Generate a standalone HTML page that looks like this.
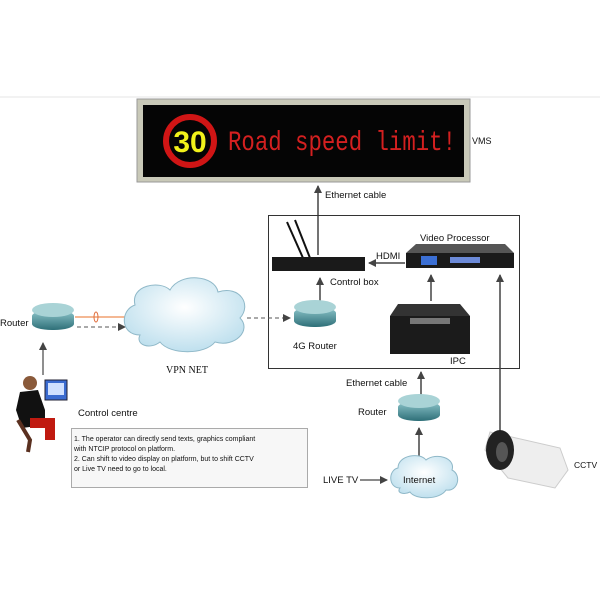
<!DOCTYPE html>
<html><head><meta charset="utf-8"><style>
body{margin:0;background:#fff;width:600px;height:600px;overflow:hidden}
text{font-family:"Liberation Sans",sans-serif;fill:#111}
</style></head><body>
<svg width="600" height="600" viewBox="0 0 600 600">
<defs>
<marker id="a" markerWidth="8" markerHeight="8" refX="7" refY="4" orient="auto" markerUnits="userSpaceOnUse"><path d="M0,0L8,4L0,8z" fill="#444"/></marker>
<radialGradient id="cl" cx="50%" cy="40%" r="60%"><stop offset="0" stop-color="#fff"/><stop offset="1" stop-color="#bfe0ee"/></radialGradient>
<linearGradient id="rt" x1="0" y1="0" x2="0" y2="1"><stop offset="0" stop-color="#8fc7cc"/><stop offset="1" stop-color="#2e6f78"/></linearGradient>
</defs>
<line x1="0" y1="97" x2="600" y2="97" stroke="#e6e6e6"/>
<rect x="137" y="99" width="333" height="83" fill="#c9c9b8" stroke="#999"/>
<rect x="143" y="105" width="321" height="72" fill="#050505"/>
<circle cx="190" cy="141" r="24" fill="none" stroke="#d01515" stroke-width="6"/>
<text x="190" y="152" text-anchor="middle" font-size="30" font-weight="bold" style="fill:#f2f21a">30</text>
<text x="228" y="150" font-size="28" textLength="228" lengthAdjust="spacingAndGlyphs" style="fill:#d42020;font-family:'Liberation Mono',monospace">Road speed limit!</text>
<text x="472" y="144" font-size="9">VMS</text>
<line x1="318" y1="255" x2="318" y2="186" stroke="#444" stroke-width="1.5" marker-end="url(#a)"/>
<text x="325" y="198" font-size="9.5">Ethernet cable</text>
<rect x="268.5" y="215.5" width="251" height="153" fill="none" stroke="#333"/>
<line x1="287" y1="222" x2="303" y2="258" stroke="#111" stroke-width="2"/>
<line x1="295" y1="220" x2="310" y2="258" stroke="#111" stroke-width="2"/>
<rect x="272" y="257" width="93" height="14" fill="#1a1a1a"/>
<text x="330" y="285" font-size="9.5">Control box</text>
<text x="420" y="241" font-size="9.5">Video Processor</text>
<polygon points="416,244 505,244 514,253 406,253" fill="#555"/>
<rect x="406" y="253" width="108" height="15" fill="#1a1a1a"/>
<rect x="421" y="256" width="16" height="9" fill="#3b6fd4"/>
<rect x="450" y="257" width="30" height="6" fill="#6c8ad8"/>
<text x="376" y="259" font-size="9.5">HDMI</text>
<line x1="405" y1="263" x2="369" y2="263" stroke="#444" stroke-width="1.5" marker-end="url(#a)"/>
<line x1="431" y1="301" x2="431" y2="275" stroke="#444" stroke-width="1.5" marker-end="url(#a)"/>
<line x1="500" y1="450" x2="500" y2="275" stroke="#444" stroke-width="1.5" marker-end="url(#a)"/>
<line x1="320" y1="303" x2="320" y2="278" stroke="#444" stroke-width="1.5" marker-end="url(#a)"/>
<rect x="294" y="307" width="42" height="20" rx="20" ry="6" fill="url(#rt)"/>
<ellipse cx="315" cy="307" rx="21" ry="7" fill="#a9d3d6"/>
<text x="293" y="349" font-size="9.5">4G Router</text>
<polygon points="398,304 460,304 470,316 390,316" fill="#333"/>
<rect x="390" y="316" width="80" height="38" fill="#1b1b1b"/>
<rect x="410" y="318" width="40" height="6" fill="#777"/>
<text x="450" y="364" font-size="9.5">IPC</text>
<rect x="32" y="310" width="42" height="20" rx="20" ry="6" fill="url(#rt)"/>
<ellipse cx="53" cy="310" rx="21" ry="7" fill="#a9d3d6"/>
<text x="0" y="326" font-size="9.5">Router</text>
<line x1="43" y1="375" x2="43" y2="343" stroke="#444" stroke-width="1.2" marker-end="url(#a)"/>
<line x1="75" y1="317" x2="125" y2="317" stroke="#f0a070" stroke-width="1.5"/>
<ellipse cx="96" cy="317" rx="2" ry="5" fill="none" stroke="#e07040"/>
<line x1="77" y1="327" x2="125" y2="327" stroke="#555" stroke-dasharray="4,3" marker-end="url(#a)"/>
<path d="M140,335 C120,335 120,310 135,305 C130,285 160,280 170,290 C180,272 215,275 218,292 C240,285 252,305 240,318 C252,330 235,348 215,342 C205,355 170,355 160,342 C150,350 135,345 140,335z" fill="url(#cl)" stroke="#8fb8c8"/>
<text x="166" y="373" font-size="10" style="font-family:'Liberation Serif',serif">VPN NET</text>
<line x1="247" y1="318" x2="290" y2="318" stroke="#555" stroke-dasharray="4,3" marker-end="url(#a)"/>
<text x="346" y="386" font-size="9.5">Ethernet cable</text>
<line x1="421" y1="395" x2="421" y2="372" stroke="#444" stroke-width="1.5" marker-end="url(#a)"/>
<rect x="398" y="401" width="42" height="20" rx="20" ry="6" fill="url(#rt)"/>
<ellipse cx="419" cy="401" rx="21" ry="7" fill="#a9d3d6"/>
<text x="358" y="415" font-size="9.5">Router</text>
<line x1="419" y1="458" x2="419" y2="428" stroke="#444" stroke-width="1.5" marker-end="url(#a)"/>
<path d="M400,488 C388,488 388,470 398,468 C398,455 420,452 426,460 C436,452 456,458 452,470 C462,475 458,492 446,490 C440,500 415,500 410,492 C404,495 396,493 400,488z" fill="url(#cl)" stroke="#8fb8c8"/>
<text x="403" y="483" font-size="9.5">Internet</text>
<text x="323" y="483" font-size="9.5">LIVE TV</text>
<line x1="360" y1="480" x2="387" y2="480" stroke="#444" stroke-width="1.2" marker-end="url(#a)"/>
<polygon points="490,432 560,448 568,470 555,488 508,478 485,450" fill="#eee" stroke="#ccc"/>
<ellipse cx="500" cy="450" rx="14" ry="20" fill="#222"/>
<ellipse cx="502" cy="452" rx="6" ry="10" fill="#555"/>
<text x="574" y="468" font-size="8.5">CCTV</text>
<rect x="45" y="380" width="22" height="20" fill="#3a6bd0" stroke="#223"/>
<rect x="48" y="383" width="16" height="12" fill="#cfe0ff"/>
<circle cx="30" cy="383" r="7" fill="#8a5a3a"/>
<path d="M20,392 L38,390 L45,410 L45,425 L22,428 L16,410z" fill="#111"/>
<path d="M30,418 L55,418 L55,440 L45,440 L45,428 L30,428z" fill="#c01a10"/>
<path d="M18,420 L30,440 L28,452" stroke="#5a3020" stroke-width="4" fill="none"/>
<text x="78" y="416" font-size="9.5">Control centre</text>
<rect x="71.5" y="428.5" width="236" height="59" fill="#f7f7f7" stroke="#aaa"/>
<text font-size="7" fill="#333"><tspan x="74" y="441">1. The operator can directly send texts, graphics compliant</tspan><tspan x="74" y="451">with NTCIP protocol on platform.</tspan><tspan x="74" y="461">2. Can shift to  video display on platform, but to shift  CCTV</tspan><tspan x="74" y="471">or Live TV need to go to local.</tspan></text>
</svg>
</body></html>
